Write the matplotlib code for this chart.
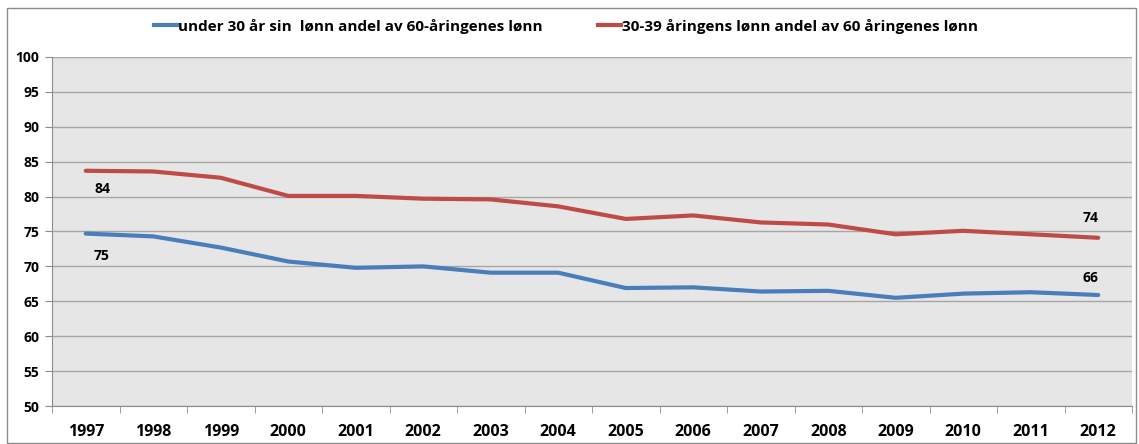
import numpy as np
import matplotlib

matplotlib.use("Agg")
import matplotlib.pyplot as plt
from matplotlib.lines import Line2D
from matplotlib.patches import Rectangle

plt.rcParams["font.family"] = ["Open Sans", "DejaVu Sans"]
plt.rcParams["font.weight"] = "bold"

years = ["1997", "1998", "1999", "2000", "2001", "2002", "2003", "2004",
         "2005", "2006", "2007", "2008", "2009", "2010", "2011", "2012"]
under30 = [74.7, 74.3, 72.7, 70.7, 69.8, 70.0, 69.1, 69.1,
           66.9, 67.0, 66.4, 66.5, 65.5, 66.1, 66.3, 65.9]
age30_39 = [83.7, 83.6, 82.7, 80.1, 80.1, 79.7, 79.6, 78.6,
            76.8, 77.3, 76.3, 76.0, 74.6, 75.1, 74.6, 74.1]
label_under30 = "under 30 år sin  lønn andel av 60-åringenes lønn"
label_30_39 = "30-39 åringens lønn andel av 60 åringenes lønn"

BLUE, RED = "#4A7EBB", "#BE4B48"
W, H = 1139, 444
fig = plt.figure(figsize=(W / 100, H / 100), dpi=100, facecolor="white")

# outer chart frame
fig.patches.append(Rectangle((7 / W, 1 / H), 1129 / W, (H - 9) / H, transform=fig.transFigure,
                             fill=False, edgecolor="#8C8C8C", linewidth=1.0))

ax = fig.add_axes([52 / W, (H - 406) / H, 1080 / W, 349 / H])
ax.set_facecolor("#E6E6E6")
x = np.arange(len(years))
ax.plot(x, under30, color=BLUE, lw=3.0, solid_capstyle="round")
ax.plot(x, age30_39, color=RED, lw=3.0, solid_capstyle="round")

ax.set_xlim(-0.5, len(years) - 0.5)
ax.set_ylim(50, 100)
ax.set_yticks(np.arange(50, 101, 5))
ax.set_xticks(x)
ax.set_xticklabels(years, fontsize=11.5, fontweight="bold")
ax.set_xticks(np.arange(-0.5, len(years)), minor=True)
ax.tick_params(axis="x", which="major", length=0, pad=13)
ax.tick_params(axis="x", which="minor", length=5, color="#8C8C8C")
ax.tick_params(axis="y", length=5, color="#8C8C8C", labelsize=10, pad=4)
for lab in ax.get_yticklabels():
    lab.set_fontweight("bold")
ax.grid(axis="y", color="#A6A6A6", lw=1.0)
ax.set_axisbelow(True)
for s in ("top", "right"):
    ax.spines[s].set_visible(False)
for s in ("left", "bottom"):
    ax.spines[s].set_color("#8C8C8C")

# data labels at the ends
lab_kw = dict(textcoords="offset pixels", fontsize=10, fontweight="bold", ha="center", va="center")
ax.annotate(f"{age30_39[0]:.0f}", (0, age30_39[0]), xytext=(17, -18), **lab_kw)
ax.annotate(f"{under30[0]:.0f}", (0, under30[0]), xytext=(16, -22), **lab_kw)
ax.annotate(f"{age30_39[-1]:.0f}", (x[-1], age30_39[-1]), xytext=(-8, 20), **lab_kw)
ax.annotate(f"{under30[-1]:.0f}", (x[-1], under30[-1]), xytext=(-8, 17), **lab_kw)

handles = [Line2D([], [], color=BLUE, lw=3.0), Line2D([], [], color=RED, lw=3.0)]
fig.legend(handles, [label_under30, label_30_39], loc="center", bbox_to_anchor=(566 / W, 1 - 26 / H),
           ncol=2, frameon=False, handlelength=1.5, handletextpad=0.1, columnspacing=3.6,
           prop={"weight": "bold", "size": 11})

fig.savefig("out.png", dpi=100, facecolor="white")
